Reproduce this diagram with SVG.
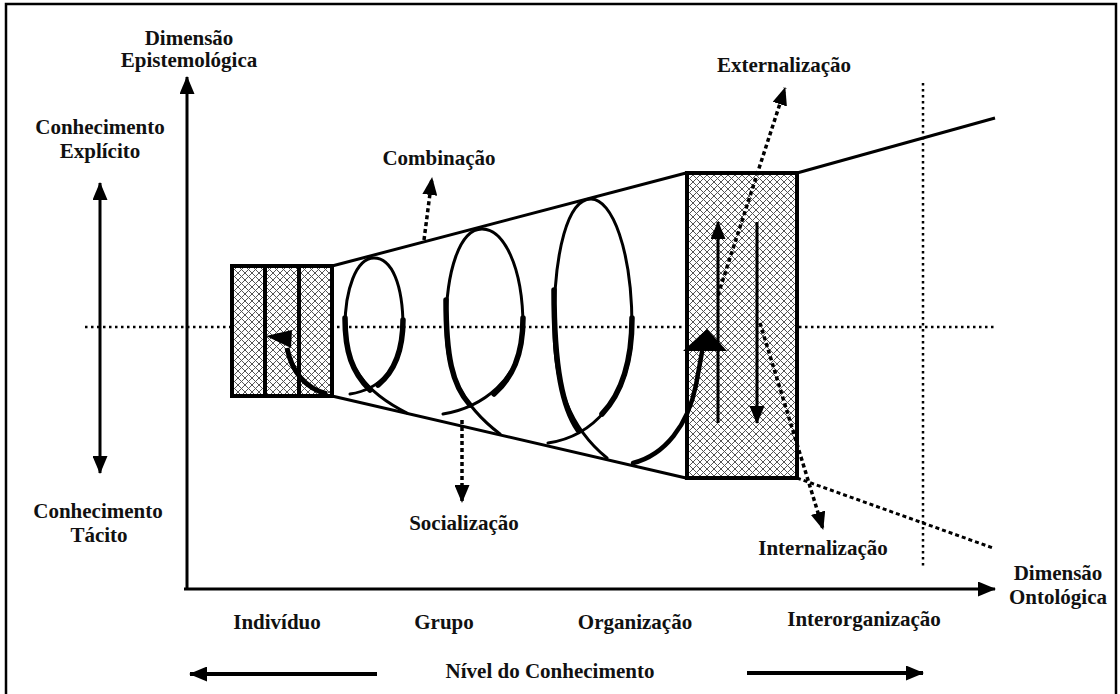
<svg xmlns="http://www.w3.org/2000/svg" width="1120" height="694" viewBox="0 0 1120 694">
<style>
text{font-family:"Liberation Serif","Times New Roman",serif;font-weight:bold;font-size:21px;fill:#111;text-anchor:middle}
.solid{fill:none;stroke:#000;stroke-width:3}
.box{stroke:#000;stroke-width:4;fill:url(#hatch)}
.dot{fill:none;stroke:#000;stroke-width:2.5;stroke-dasharray:2.5 3.5}
.dotarrow{fill:none;stroke:#000;stroke-width:3.5;stroke-dasharray:4 3}
.sp{fill:none;stroke:#000;stroke-width:3;stroke-linecap:round}
.spt{fill:none;stroke:#000;stroke-width:5.5;stroke-linecap:round}
</style>
<defs>
<pattern id="hatch" patternUnits="userSpaceOnUse" width="7" height="7">
<rect width="7" height="7" fill="#fff"/>
<path d="M0,0 L7,7 M7,0 L0,7" stroke="#555" stroke-width="1"/>
</pattern>
<marker id="ah" markerUnits="userSpaceOnUse" viewBox="0 0 18 15" refX="17" refY="7.5" markerWidth="18" markerHeight="15" orient="auto-start-reverse">
<path d="M0,0 L18,7.5 L0,15 z" fill="#000"/>
</marker>
</defs>

<rect id="frame" x="6" y="4" width="1110" height="700" fill="none" stroke="#000" stroke-width="2.5"/>

<g id="guides">
<line class="dot" x1="85" y1="327" x2="995" y2="327"/>
<line class="dot" x1="923" y1="83" x2="923" y2="567"/>
</g>

<g id="funnel">
<line class="solid" x1="332" y1="266" x2="686" y2="173"/>
<line class="solid" x1="332" y1="396" x2="686" y2="478"/>
<line class="solid" x1="797" y1="173" x2="995" y2="118"/>
<line class="dotarrow" x1="797" y1="478" x2="993" y2="548" style="stroke-width:3"/>
</g>

<g id="spiral">
<path class="sp" d="M350,394 C378,390 403,368 403,327 C403,285 392,258 374,258 C356,258 345,290 345,327 C345,365 365,392 407,413"/>
<path class="spt" d="M403,320 C403,352 394,372 378,385"/>
<path class="spt" d="M345,318 C345,352 352,372 370,390"/>
<path class="sp" d="M443,414 C480,408 523,380 523,327 C523,265 503,229 482,229 C460,229 446,270 446,327 C446,372 462,405 500,434"/>
<path class="spt" d="M523,318 C523,356 512,378 494,394"/>
<path class="spt" d="M446,300 C446,356 452,385 470,405"/>
<path class="sp" d="M548,443 C590,437 632,400 632,327 C632,250 612,199 591,199 C568,199 554,250 554,327 C554,385 570,428 607,458"/>
<path class="spt" d="M632,318 C632,365 620,395 602,414"/>
<path class="spt" d="M554,290 C554,370 563,408 578,430"/>
</g>

<g id="box-individual">
<rect class="box" x="232" y="266" width="100" height="130"/>
<line x1="265" y1="266" x2="265" y2="396" stroke="#000" stroke-width="4"/>
<line x1="299" y1="266" x2="299" y2="396" stroke="#000" stroke-width="4"/>
<path d="M327,394 C305,388 292,372 287,348" fill="none" stroke="#000" stroke-width="5"/>
<polygon points="266,336 292,330 291,348" fill="#000"/>
</g>

<g id="box-organizacao">
<rect class="box" x="687" y="173" width="110" height="305"/>
<line class="solid" x1="718" y1="423" x2="718" y2="222" marker-end="url(#ah)"/>
<line class="solid" x1="757" y1="222" x2="757" y2="423" marker-end="url(#ah)"/>
</g>

<g id="spiral-end">
<path class="sp" d="M633,463 C665,455 688,425 696,385 L702,352" style="stroke-width:4.5"/>
<polygon points="683,351 707,329 727,351" fill="#000"/>
</g>

<g id="connectors">
<line class="solid" x1="187" y1="590" x2="187" y2="77" marker-end="url(#ah)"/>
<line class="solid" x1="184" y1="589" x2="995" y2="589" marker-end="url(#ah)"/>
<line class="solid" x1="100" y1="183" x2="100" y2="473" marker-start="url(#ah)" marker-end="url(#ah)"/>
<line class="solid" x1="377" y1="674" x2="190" y2="674" style="stroke-width:4" marker-end="url(#ah)"/>
<line class="solid" x1="747" y1="673" x2="923" y2="673" style="stroke-width:4" marker-end="url(#ah)"/>
<line class="dotarrow" x1="424" y1="240" x2="432" y2="178" marker-end="url(#ah)"/>
<line class="dotarrow" x1="462" y1="420" x2="462" y2="502" marker-end="url(#ah)"/>
<line class="dotarrow" x1="718" y1="295" x2="785" y2="88" marker-end="url(#ah)"/>
<line class="dotarrow" x1="760" y1="323" x2="823" y2="529" marker-end="url(#ah)"/>
</g>

<g id="labels">
<text x="189" y="45">Dimensão</text>
<text x="189" y="67">Epistemológica</text>
<text x="100" y="134">Conhecimento</text>
<text x="100" y="158">Explícito</text>
<text x="98" y="518">Conhecimento</text>
<text x="99" y="542">Tácito</text>
<text x="439" y="165">Combinação</text>
<text x="784" y="72">Externalização</text>
<text x="464" y="530">Socialização</text>
<text x="823" y="555">Internalização</text>
<text x="277" y="629">Indivíduo</text>
<text x="444" y="629">Grupo</text>
<text x="635" y="629">Organização</text>
<text x="864" y="626">Interorganização</text>
<text x="1058" y="580">Dimensão</text>
<text x="1058" y="604">Ontológica</text>
<text x="550" y="678">Nível do Conhecimento</text>
</g>
</svg>
